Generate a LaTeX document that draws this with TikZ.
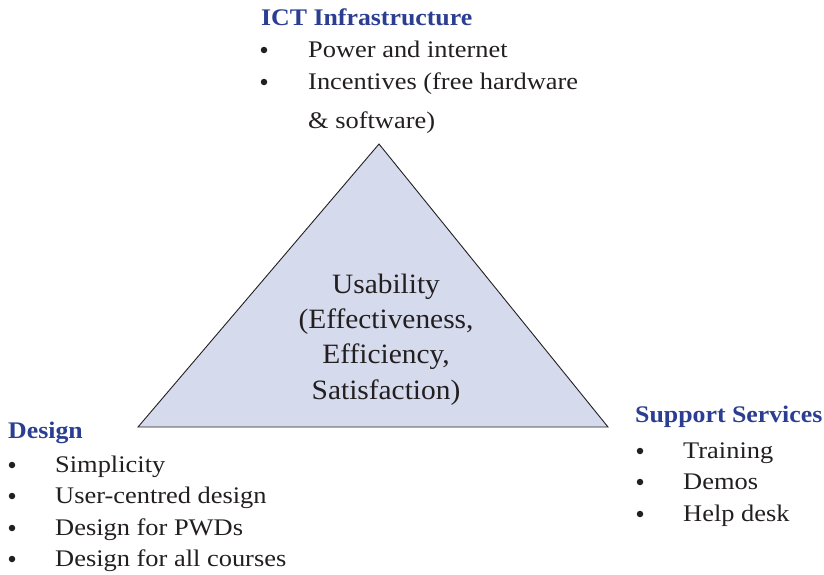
\documentclass[tikz,border=0pt]{standalone}
\usepackage{fontspec}
\setmainfont{Liberation Serif}
\newfontfamily\bodyfont[FakeStretch=1.11]{Liberation Serif}
\newfontfamily\titlefont[FakeStretch=1.085]{Liberation Serif}
\newfontfamily\trifont[FakeStretch=1.05]{Liberation Serif}
\definecolor{titleblue}{RGB}{43,62,145}
\definecolor{trifill}{RGB}{213,218,237}
\definecolor{ink}{RGB}{35,31,32}
\begin{document}
\begin{tikzpicture}[x=1pt,y=-1pt,
  txt/.style={anchor=base west,inner sep=0pt,text=ink,font=\bodyfont\fontsize{23.8}{28}\selectfont},
  ttl/.style={anchor=base west,inner sep=0pt,text=titleblue,font=\titlefont\fontsize{23.8}{28}\selectfont\bfseries},
  bul/.style={circle,fill=ink,inner sep=0pt,minimum size=6.5pt},
  ctr/.style={anchor=base,inner sep=0pt,text=ink,font=\trifont\fontsize{28}{32}\selectfont}]
\useasboundingbox (0,0) rectangle (824,574);
% triangle
\coordinate (apex) at (379,144);
\coordinate (bl) at (138,427);
\coordinate (br) at (608,427);
\filldraw[fill=trifill,draw=ink,line width=0.9pt,line join=miter] (apex) -- (bl) -- (br) -- cycle;
\node[ctr] (u1) at (386,293) {Usability};
\node[ctr] (u2) at (386,328) {(Effectiveness,};
\node[ctr] (u3) at (386,363) {Efficiency,};
\node[ctr] (u4) at (386,399) {Satisfaction)};
% ICT
\node[ttl] (ict) at (261,25) {ICT Infrastructure};
\node[bul] (ib1) at (264,50) {};
\node[txt] (i1) at (308,57) {Power and internet};
\node[bul] (ib2) at (264,82) {};
\node[txt] (i2) at (308,89) {Incentives (free hardware};
\node[txt] (i3) at (308,128) {\& software)};
% Design
\node[ttl] (des) at (8,438) {Design};
\node[bul] (db1) at (12,465) {};
\node[txt] (d1) at (55,472) {Simplicity};
\node[bul] (db2) at (12,496) {};
\node[txt] (d2) at (55,503) {User-centred design};
\node[bul] (db3) at (12,528) {};
\node[txt] (d3) at (55,535) {Design for PWDs};
\node[bul] (db4) at (12,559) {};
\node[txt] (d4) at (55,566) {Design for all courses};
% Support
\node[ttl] (sup) at (635,422) {Support Services};
\node[bul] (sb1) at (640,451) {};
\node[txt] (s1) at (683,458) {Training};
\node[bul] (sb2) at (640,482) {};
\node[txt] (s2) at (683,489) {Demos};
\node[bul] (sb3) at (640,514) {};
\node[txt] (s3) at (683,521) {Help desk};
\end{tikzpicture}
\end{document}
